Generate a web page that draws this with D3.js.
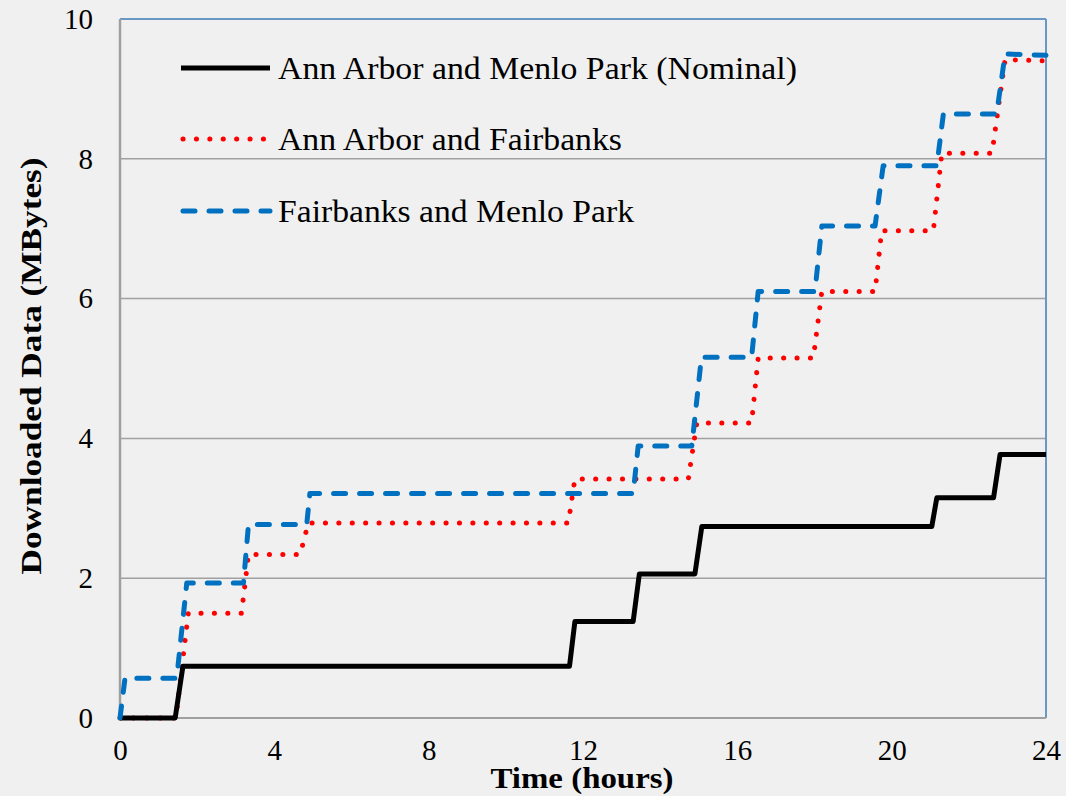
<!DOCTYPE html>
<html lang="en">
<head>
<meta charset="utf-8">
<title>Downloaded Data</title>
<script src="https://cdn.jsdelivr.net/npm/d3@7"></script>
<style>
  body { margin: 0; background: #f0f0f0; }
  svg { display: block; }
</style>
</head>
<body>
<script>
// series data (time in hours, downloaded data in MBytes)
var nominalTime = [0, 1.43, 1.63, 11.65, 11.79, 13.3, 13.46, 14.9, 15.08, 21.04, 21.17, 22.64, 22.81, 24];
var nominalData = [0, 0, 0.74, 0.74, 1.38, 1.38, 2.06, 2.06, 2.74, 2.74, 3.15, 3.15, 3.77, 3.77];

var fairbanksTime = [0, 1.45, 1.77, 3.15, 3.33, 4.67, 4.88, 11.62, 11.79, 14.73, 14.95, 16.37, 16.54, 17.97, 18.19, 19.57, 19.74, 21.08, 21.3, 22.6, 22.94, 24];
var fairbanksData = [0, 0, 1.5, 1.5, 2.34, 2.34, 2.79, 2.79, 3.42, 3.42, 4.22, 4.22, 5.15, 5.15, 6.1, 6.1, 6.97, 6.97, 8.08, 8.08, 9.42, 9.4];

var menloTime = [0, 0.13, 1.47, 1.73, 3.2, 3.33, 4.84, 4.92, 13.3, 13.43, 14.82, 15.07, 16.37, 16.54, 18.01, 18.19, 19.57, 19.78, 21.17, 21.34, 22.72, 22.94, 24];
var menloData = [0, 0.57, 0.57, 1.93, 1.93, 2.77, 2.77, 3.21, 3.21, 3.89, 3.89, 5.16, 5.16, 6.1, 6.1, 7.04, 7.04, 7.9, 7.9, 8.64, 8.64, 9.5, 9.48];

var seriesNames = ["Ann Arbor and Menlo Park (Nominal)", "Ann Arbor and Fairbanks", "Fairbanks and Menlo Park"];
var xTicks = [0, 4, 8, 12, 16, 20, 24];
var yTicks = [0, 2, 4, 6, 8, 10];

var serif = "'Liberation Serif', 'Times New Roman', serif";
var w = 1066, h = 796;
var mLeft = 120, mRight = 1046, mTop = 19, mBottom = 718;

var svg = d3.select("body").append("svg")
    .attr("width", w)
    .attr("height", h)
    .attr("font-family", serif);

var x = d3.scaleLinear().domain([0, 24]).range([mLeft, mRight]);
var y = d3.scaleLinear().domain([0, 10]).range([mBottom, mTop]);

// gridlines
svg.append("g")
    .selectAll("line")
    .data(yTicks.filter(function(d) { return d > 0 && d < 10; }))
    .enter().append("line")
    .attr("x1", mLeft).attr("x2", mRight)
    .attr("y1", function(d) { return y(d); })
    .attr("y2", function(d) { return y(d); })
    .attr("stroke", "#a0a0a0")
    .attr("stroke-width", 1.5);

// plot frame: blue top/right, gray left/bottom
svg.append("line").attr("x1", mLeft).attr("x2", mRight).attr("y1", mTop).attr("y2", mTop)
    .attr("stroke", "#6a98c4").attr("stroke-width", 2);
svg.append("line").attr("x1", mRight).attr("x2", mRight).attr("y1", mTop).attr("y2", mBottom)
    .attr("stroke", "#6a98c4").attr("stroke-width", 2);
svg.append("line").attr("x1", mLeft).attr("x2", mRight).attr("y1", mBottom).attr("y2", mBottom)
    .attr("stroke", "#a0a0a0").attr("stroke-width", 2);
svg.append("line").attr("x1", mLeft).attr("x2", mLeft).attr("y1", mTop).attr("y2", mBottom)
    .attr("stroke", "#a0a0a0").attr("stroke-width", 2.5);

// axes (labels only)
var xAxis = svg.append("g")
    .attr("transform", "translate(0," + mBottom + ")")
    .call(d3.axisBottom(x).tickValues(xTicks).tickSize(0).tickPadding(21));
var yAxis = svg.append("g")
    .attr("transform", "translate(" + mLeft + ",0)")
    .call(d3.axisLeft(y).tickValues(yTicks).tickSize(0).tickPadding(27));
[xAxis, yAxis].forEach(function(a) {
    a.select(".domain").remove();
    a.selectAll("text")
        .attr("font-family", serif)
        .attr("font-size", 29)
        .attr("fill", "#000");
});

// axis titles
svg.append("text")
    .attr("x", 582).attr("y", 788)
    .attr("text-anchor", "middle")
    .attr("font-size", 30).attr("font-weight", "bold")
    .attr("textLength", 183).attr("lengthAdjust", "spacingAndGlyphs")
    .text("Time (hours)");
svg.append("text")
    .attr("transform", "translate(41,366) rotate(-90)")
    .attr("text-anchor", "middle")
    .attr("font-size", 30).attr("font-weight", "bold")
    .attr("textLength", 417).attr("lengthAdjust", "spacingAndGlyphs")
    .text("Downloaded Data (MBytes)");

// series
var line = d3.line()
    .x(function(d) { return x(d[0]); })
    .y(function(d) { return y(d[1]); });

var styles = [
    { color: "#000000", dash: null, cap: "butt" },
    { color: "#ff0000", dash: "0.1 13.3", cap: "round" },
    { color: "#0070c0", dash: "12 14", cap: "round" }
];
var series = [
    d3.zip(nominalTime, nominalData),
    d3.zip(fairbanksTime, fairbanksData),
    d3.zip(menloTime, menloData)
];

// red first so the black line hides it along the zero stretch
[1, 0, 2].forEach(function(i) {
    svg.append("path")
        .datum(series[i])
        .attr("d", line)
        .attr("fill", "none")
        .attr("stroke", styles[i].color)
        .attr("stroke-width", 5)
        .attr("stroke-linejoin", "round")
        .attr("stroke-linecap", styles[i].cap)
        .attr("stroke-dasharray", styles[i].dash);
});

// legend
var legend = svg.append("g");
var legendY = [68, 139, 211];
var legendWidth = [519, 344, 356];
seriesNames.forEach(function(name, i) {
    legend.append("line")
        .attr("x1", styles[i].cap == "round" ? 183 : 181)
        .attr("x2", 270)
        .attr("y1", legendY[i]).attr("y2", legendY[i])
        .attr("stroke", styles[i].color)
        .attr("stroke-width", 5)
        .attr("stroke-linecap", styles[i].cap)
        .attr("stroke-dasharray", styles[i].dash);
    legend.append("text")
        .attr("x", 278)
        .attr("y", legendY[i] + 11)
        .attr("font-size", 31)
        .attr("textLength", legendWidth[i]).attr("lengthAdjust", "spacingAndGlyphs")
        .text(name);
});
</script>
</body>
</html>
